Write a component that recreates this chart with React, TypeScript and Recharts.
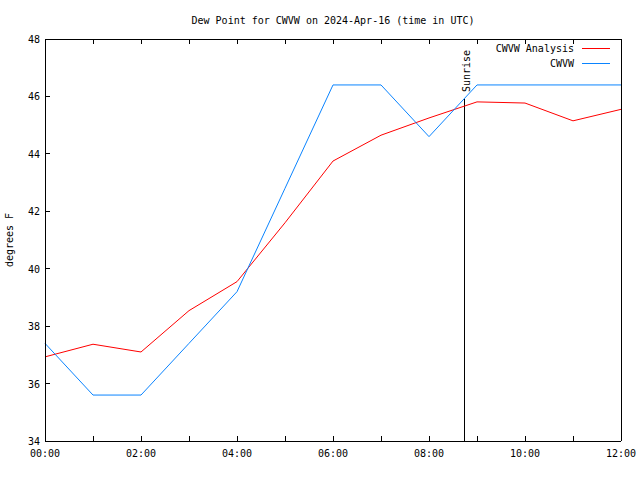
import { LineChart, Line, XAxis, YAxis, ReferenceLine, Legend } from "recharts";

const hours = [0, 1, 2, 3, 4, 5, 6, 7, 8, 9, 10, 11, 12];
const hourLabels = ["00:00", "", "02:00", "", "04:00", "", "06:00", "", "08:00", "", "10:00", "", "12:00"];
const analysis = [36.93, 37.37, 37.1, 38.54, 39.55, 41.6, 43.75, 44.65, 45.25, 45.81, 45.77, 45.15, 45.55];
const cwvw = [37.4, 35.6, 35.6, 37.4, 39.2, 42.8, 46.4, 46.4, 44.6, 46.4, 46.4, 46.4, 46.4];
const yTicks = [34, 36, 38, 40, 42, 44, 46, 48];
const sunriseHour = 8.73;
const seriesOrder = ["analysis", "cwvw"];

const data = hours.map((h, i) => ({ hour: h, analysis: analysis[i], cwvw: cwvw[i] }));

const FONT = "'DejaVu Sans Mono', monospace";
const TICK = 5;

const BottomTick = (props: any) => {
  const { x, y, payload } = props;
  const label = hourLabels[hours.indexOf(payload.value)];
  return (
    <g>
      <line x1={x} y1={y} x2={x} y2={y - TICK} stroke="#000" shapeRendering="crispEdges" />
      {label ? (
        <text x={x} y={y + 16} textAnchor="middle" fontFamily={FONT} fontSize={10} fill="#000">
          {label}
        </text>
      ) : null}
    </g>
  );
};

const TopTick = (props: any) => {
  const { x, y } = props;
  return <line x1={x} y1={y} x2={x} y2={y + TICK} stroke="#000" shapeRendering="crispEdges" />;
};

const LeftTick = (props: any) => {
  const { x, y, payload } = props;
  return (
    <g>
      <line x1={x} y1={y} x2={x + TICK} y2={y} stroke="#000" shapeRendering="crispEdges" />
      <text x={x - 5} y={y + 4} textAnchor="end" fontFamily={FONT} fontSize={10} fill="#000">
        {payload.value}
      </text>
    </g>
  );
};

const RightTick = (props: any) => {
  const { x, y } = props;
  return <line x1={x} y1={y} x2={x - TICK} y2={y} stroke="#000" shapeRendering="crispEdges" />;
};

const SunriseLabel = (props: any) => {
  const vb = props.viewBox || {};
  const px = vb.x + 5.5;
  const py = vb.y - 7;
  return (
    <text x={px} y={py} transform={`rotate(-90 ${px} ${py})`} fontFamily={FONT} fontSize={10} fill="#000">
      Sunrise
    </text>
  );
};

const YLabel = (props: any) => {
  const vb = props.viewBox || {};
  const px = 13;
  const py = vb.y + vb.height / 2;
  return (
    <text x={px} y={py} transform={`rotate(-90 ${px} ${py})`} textAnchor="middle" fontFamily={FONT} fontSize={10} fill="#000">
      degrees F
    </text>
  );
};

const LegendBox = (props: any) => {
  const items = [...(props.payload || [])].sort(
    (a: any, b: any) => seriesOrder.indexOf(a.dataKey) - seriesOrder.indexOf(b.dataKey)
  );
  return (
    <div style={{ fontFamily: FONT, fontSize: 10 }}>
      {items.map((it: any) => (
        <div key={it.value} style={{ display: "flex", alignItems: "center", justifyContent: "flex-end", height: 15 }}>
          <span style={{ lineHeight: "15px" }}>{it.value}</span>
          <svg width={28} height={15} style={{ marginLeft: 8, display: "block" }}>
            <line x1={0} y1={7.5} x2={28} y2={7.5} stroke={it.color} />
          </svg>
        </div>
      ))}
    </div>
  );
};

export default function App() {
  return (
    <div style={{ position: "absolute", left: 0, top: 0, width: 640, height: 480, background: "#fff" }}>
      <div
        style={{
          position: "absolute",
          left: 0,
          width: 666,
          top: 14,
          textAlign: "center",
          fontFamily: FONT,
          fontSize: 10,
          lineHeight: "14px",
          color: "#000",
        }}
      >
        Dew Point for CWVW on 2024-Apr-16 (time in UTC)
      </div>
      <LineChart width={640} height={480} data={data} margin={{ top: 0, right: 0, bottom: 0, left: 0 }}>
        <XAxis
          dataKey="hour"
          type="number"
          domain={[0, 12]}
          ticks={hours}
          interval={0}
          height={39}
          tickSize={0}
          tickMargin={0}
          tickLine={false}
          axisLine={{ stroke: "#000", shapeRendering: "crispEdges" }}
          tick={<BottomTick />}
        />
        <XAxis
          xAxisId="top"
          orientation="top"
          dataKey="hour"
          type="number"
          domain={[0, 12]}
          ticks={hours}
          interval={0}
          height={39}
          tickSize={0}
          tickMargin={0}
          tickLine={false}
          axisLine={{ stroke: "#000", shapeRendering: "crispEdges" }}
          tick={<TopTick />}
        />
        <YAxis
          type="number"
          domain={[34, 48]}
          ticks={yTicks}
          interval={0}
          width={45}
          tickSize={0}
          tickMargin={0}
          tickLine={false}
          axisLine={{ stroke: "#000", shapeRendering: "crispEdges" }}
          tick={<LeftTick />}
          label={<YLabel />}
        />
        <YAxis
          yAxisId="right"
          orientation="right"
          type="number"
          domain={[34, 48]}
          ticks={yTicks}
          interval={0}
          width={19}
          tickSize={0}
          tickMargin={0}
          tickLine={false}
          axisLine={{ stroke: "#000", shapeRendering: "crispEdges" }}
          tick={<RightTick />}
        />
        <ReferenceLine
          segment={[
            { x: sunriseHour, y: 34 },
            { x: sunriseHour, y: 45.91 },
          ]}
          stroke="#000"
          shapeRendering="crispEdges"
          label={<SunriseLabel />}
        />
        <Line
          name="CWVW Analysis"
          dataKey="analysis"
          stroke="#ff0000"
          strokeWidth={1}
          dot={false}
          activeDot={false}
          isAnimationActive={false}
        />
        <Line
          name="CWVW"
          dataKey="cwvw"
          stroke="#0a84ff"
          strokeWidth={1}
          dot={false}
          activeDot={false}
          isAnimationActive={false}
        />
        <Legend
          layout="vertical"
          align="center"
          verticalAlign="middle"
          wrapperStyle={{ top: 41, right: 30, left: "auto", width: "auto" }}
          content={<LegendBox />}
        />
      </LineChart>
    </div>
  );
}
